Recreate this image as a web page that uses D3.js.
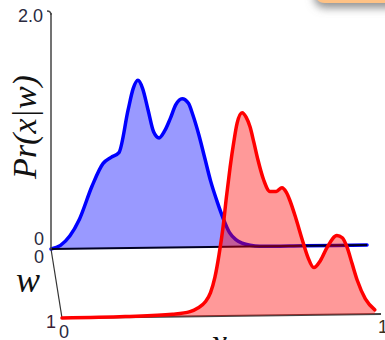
<!DOCTYPE html>
<html>
<head>
<meta charset="utf-8">
<script src="https://cdn.jsdelivr.net/npm/d3@7"></script>
<style>
  body { margin: 0; background: #fff; }
  svg { display: block; }
</style>
</head>
<body>
<div class="container"></div>
<script>
// values: x in [0,1], density Pr(x|w)
const blueX = [0, 0.03, 0.06, 0.09, 0.13, 0.165, 0.19, 0.215, 0.244, 0.26, 0.275, 0.29, 0.307, 0.325,
  0.342, 0.36, 0.377, 0.395, 0.415, 0.435, 0.449, 0.468, 0.487, 0.505, 0.525, 0.545, 0.565, 0.585,
  0.605, 0.63, 0.66, 0.8, 1.0];
const blueP = [0, 0.03, 0.11, 0.25, 0.53, 0.72, 0.77, 0.81, 1.17, 1.35, 1.42, 1.35, 1.17, 0.98,
  0.93, 0.99, 1.09, 1.21, 1.26, 1.22, 1.12, 0.95, 0.75, 0.56, 0.39, 0.24, 0.12, 0.06,
  0.03, 0.01, 0, 0, 0];

const redX = [0, 0.2, 0.35, 0.405, 0.43, 0.453, 0.47, 0.484, 0.497, 0.51, 0.52, 0.532, 0.544, 0.554,
  0.57, 0.583, 0.595, 0.607, 0.62, 0.638, 0.658, 0.678, 0.696, 0.71, 0.72, 0.74, 0.76, 0.778,
  0.797, 0.818, 0.839, 0.87, 0.887, 0.902, 0.918, 0.934, 0.96, 0.99];
const redP = [0, 0.005, 0.02, 0.04, 0.07, 0.12, 0.2, 0.33, 0.52, 0.76, 1.0, 1.26, 1.48, 1.63,
  1.72, 1.68, 1.6, 1.47, 1.32, 1.15, 1.05, 1.05, 1.08, 1.04, 0.98, 0.82, 0.64, 0.49,
  0.4, 0.46, 0.57, 0.67, 0.65, 0.57, 0.43, 0.29, 0.13, 0.035];

const pTicks = ["0", "2.0"];
const wTicks = ["0", "1"];

const width = 385, height = 340;

// skewed projection: x runs right, w runs into the front, p runs up
const xScale = d3.scaleLinear().domain([0, 1]).range([0, 316]);
const xDrop = d3.scaleLinear().domain([0, 1]).range([0, -4]);
const wScaleX = d3.scaleLinear().domain([0, 1]).range([0, 11]);
const wScaleY = d3.scaleLinear().domain([0, 1]).range([0, 69]);
const pScale = d3.scaleLinear().domain([0, 2]).range([0, -236]);
const ox = 51, oy = 249;

function px(x, w) { return ox + xScale(x) + wScaleX(w); }
function py(x, w, p) { return oy + xDrop(x) + wScaleY(w) + pScale(p); }

const blue = blueX.map((x, i) => ({x: x, p: blueP[i]}));
const red = redX.map((x, i) => ({x: x, p: redP[i]}));

function curveLine(w) {
  return d3.line()
    .x(d => px(d.x, w))
    .y(d => py(d.x, w, d.p))
    .curve(d3.curveMonotoneX);
}
function curveArea(w) {
  return d3.area()
    .x(d => px(d.x, w))
    .y0(d => py(d.x, w, 0))
    .y1(d => py(d.x, w, d.p))
    .curve(d3.curveMonotoneX);
}

const svg = d3.select('.container')
  .append('svg')
  .attr('width', width)
  .attr('height', height);

const defs = svg.append('defs');
defs.append('filter')
  .attr('id', 'shadow')
  .attr('x', '-30%').attr('y', '-30%').attr('width', '160%').attr('height', '200%')
  .append('feDropShadow')
  .attr('dx', 0).attr('dy', 5).attr('stdDeviation', 4)
  .attr('flood-color', '#777').attr('flood-opacity', 0.8);

// orange callout peeking in at the top right
svg.append('rect')
  .attr('x', 314).attr('y', -40)
  .attr('width', 100).attr('height', 43)
  .attr('rx', 11)
  .attr('fill', '#ffc285')
  .attr('filter', 'url(#shadow)');

// back plane (w = 0)
svg.append('path')
  .datum(blue)
  .attr('d', curveArea(0))
  .attr('fill', '#0000ff')
  .attr('fill-opacity', 0.4);

svg.append('path')
  .datum(blue)
  .attr('d', curveLine(0))
  .attr('fill', 'none')
  .attr('stroke', '#0000ff')
  .attr('stroke-width', 3.5)
  .attr('stroke-linecap', 'round');

svg.append('line')
  .attr('x1', px(0, 0)).attr('y1', py(0, 0, 0))
  .attr('x2', px(1, 0)).attr('y2', py(1, 0, 0))
  .attr('stroke', '#000022')
  .attr('stroke-width', 2);

// vertical Pr axis
svg.append('line')
  .attr('x1', px(0, 0)).attr('y1', py(0, 0, 2))
  .attr('x2', px(0, 0)).attr('y2', py(0, 0, 0))
  .attr('stroke', '#444')
  .attr('stroke-width', 1.5);
svg.append('path')
  .attr('d', 'M' + (px(0, 0) - 4) + ',' + (py(0, 0, 2) - 2) +
    ' Q' + px(0, 0) + ',' + (py(0, 0, 2) - 2) + ' ' + px(0, 0) + ',' + (py(0, 0, 2) + 2))
  .attr('fill', 'none')
  .attr('stroke', '#444')
  .attr('stroke-width', 1.5);

// w axis
svg.append('line')
  .attr('x1', px(0, 0)).attr('y1', py(0, 0, 0))
  .attr('x2', px(0, 1)).attr('y2', py(0, 1, 0))
  .attr('stroke', '#333')
  .attr('stroke-width', 1.2);

// front plane (w = 1)
svg.append('line')
  .attr('x1', px(0, 1)).attr('y1', py(0, 1, 0))
  .attr('x2', px(1, 1) + 3).attr('y2', py(1, 1, 0))
  .attr('stroke', '#444')
  .attr('stroke-width', 2);

svg.append('path')
  .datum(red)
  .attr('d', curveArea(1))
  .attr('fill', '#ff0000')
  .attr('fill-opacity', 0.4);

svg.append('path')
  .datum(red)
  .attr('d', curveLine(1))
  .attr('fill', 'none')
  .attr('stroke', '#ff0000')
  .attr('stroke-width', 3.5)
  .attr('stroke-linecap', 'round');

// tick labels
const tickFont = 'Liberation Sans, Arial, sans-serif';
svg.append('text')
  .attr('x', 43).attr('y', py(0, 0, 2) + 9)
  .attr('text-anchor', 'end')
  .attr('font-family', tickFont).attr('font-size', 18)
  .attr('fill', '#2a2a40')
  .text(pTicks[1]);
svg.append('text')
  .attr('x', 44).attr('y', 245)
  .attr('text-anchor', 'end')
  .attr('font-family', tickFont).attr('font-size', 18)
  .attr('fill', '#2a2a40')
  .text(pTicks[0]);
svg.append('text')
  .attr('x', 44).attr('y', 263)
  .attr('text-anchor', 'end')
  .attr('font-family', tickFont).attr('font-size', 18)
  .attr('fill', '#2a2a40')
  .text(wTicks[0]);
svg.append('text')
  .attr('x', 56).attr('y', 328)
  .attr('text-anchor', 'end')
  .attr('font-family', tickFont).attr('font-size', 18)
  .attr('fill', '#3a2035')
  .text(wTicks[1]);
svg.append('text')
  .attr('x', 59).attr('y', 338)
  .attr('font-family', tickFont).attr('font-size', 18)
  .attr('fill', '#2a2a40')
  .text('0');
svg.append('text')
  .attr('x', 378).attr('y', 333)
  .attr('font-family', tickFont).attr('font-size', 18)
  .attr('fill', '#3a3020')
  .text('1');

// axis titles
const mathFont = 'Liberation Serif, Times New Roman, serif';
svg.append('text')
  .attr('transform', 'translate(36,127) rotate(-90)')
  .attr('text-anchor', 'middle')
  .attr('font-family', mathFont).attr('font-style', 'italic').attr('font-size', 34)
  .attr('fill', '#111')
  .text('Pr(x|w)');
svg.append('text')
  .attr('x', 16).attr('y', 292)
  .attr('font-family', mathFont).attr('font-style', 'italic').attr('font-size', 36)
  .attr('fill', '#111')
  .text('w');
svg.append('text')
  .attr('x', 211).attr('y', 354)
  .attr('font-family', mathFont).attr('font-style', 'italic').attr('font-size', 36)
  .attr('fill', '#111')
  .text('x');
</script>
</body>
</html>
